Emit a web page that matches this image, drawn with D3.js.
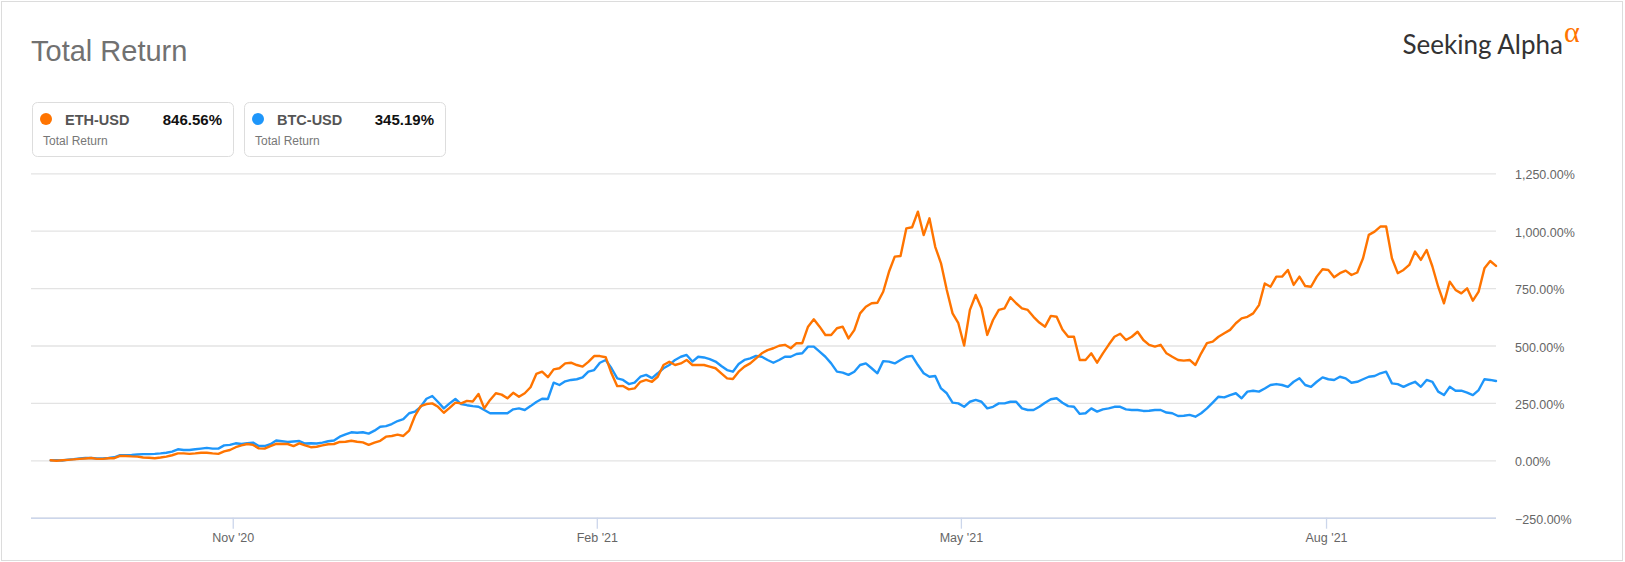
<!DOCTYPE html>
<html>
<head>
<meta charset="utf-8">
<script src="https://cdn.jsdelivr.net/npm/d3@7"></script>
<style>
  html, body { margin: 0; padding: 0; background: #fff; }
  svg { display: block; font-family: "Liberation Sans", Arial, sans-serif; }
</style>
</head>
<body>
<svg id="chart" width="1625" height="562"></svg>
<script>
// ---- data (daily trading-day total return, %) ----
const ethValues = [0,-2,0,2,4,6,8,10,6,6,9,9,19,19,17,16,12,11,9,12,16,22,30,30,28,30,33,33,30,28,39,45,57,65,71,67,52,51,62,72,71,71,62,74,65,57,59,65,70,71,80,81,85,81,78,67,77,85,103,106,112,106,129,193,236,245,248,233,207,228,251,248,259,256,289,226,263,292,286,270,294,277,292,318,376,386,362,396,401,422,425,415,408,429,454,454,449,379,323,324,309,313,342,350,342,364,415,429,415,422,437,415,415,415,408,401,379,357,354,386,408,422,444,466,480,488,499,503,488,510,510,582,614,582,546,546,575,582,531,567,640,669,684,686,734,821,887,890,1010,1015,1083,981,1054,930,858,742,640,597,500,655,720,662,546,611,655,662,710,684,662,655,625,600,582,629,625,570,538,538,437,437,466,425,466,503,538,551,524,538,560,524,503,495,503,466,451,437,434,437,415,466,510,517,538,553,568,597,618,625,640,676,770,756,800,800,829,764,800,759,756,800,832,829,797,815,826,807,818,880,982,996,1018,1018,880,815,829,851,909,873,916,844,756,684,778,742,727,749,695,735,836,868,846.56];
const btcValues = [0,0,-1,3,5,8,10,10,8,8,10,13,22,22,23,25,27,27,28,30,33,38,48,45,45,48,51,54,51,51,65,67,74,71,74,77,62,62,70,86,83,80,82,84,73,74,73,77,83,86,103,113,122,120,122,116,129,146,149,158,171,179,205,212,233,268,280,254,226,248,267,245,240,236,233,219,205,205,205,205,222,226,219,236,254,268,267,338,328,344,350,353,361,386,393,425,437,401,357,350,332,338,364,372,358,379,401,415,437,451,459,430,451,448,441,430,411,393,386,419,437,444,455,451,437,425,437,451,451,463,466,495,495,473,451,422,386,382,372,386,415,422,401,379,432,430,422,437,451,455,415,379,364,367,313,292,251,248,233,255,263,255,226,233,248,248,255,255,226,219,219,233,251,266,270,251,236,233,202,205,226,212,222,226,233,233,222,219,219,215,216,219,219,208,205,193,194,198,190,205,226,251,277,274,284,292,270,299,303,299,313,328,332,328,320,342,357,328,320,342,361,353,350,364,357,338,342,353,364,367,379,386,335,332,320,332,342,320,350,342,299,284,320,303,303,295,284,306,353,350,345.19];
const seriesNames = ["ETH-USD", "BTC-USD"];
const seriesTotals = ["846.56%", "345.19%"];
const seriesColors = ["#ff7400", "#1e96fa"];
const xTickLabels = ["Nov '20", "Feb '21", "May '21", "Aug '21"];
const xTickIndex = [31.49, 94.46, 157.44, 220.6];
const yTickValues = [-250, 0, 250, 500, 750, 1000, 1250];

// ---- layout ----
const svg = d3.select("#chart");
const plot = { left: 31, right: 1496, top: 173.3, bottom: 517.7 };
const dataLeft = 50.7;

svg.append("rect").attr("x", 1.5).attr("y", 1.5).attr("width", 1621).attr("height", 559)
  .attr("fill", "#fff").attr("stroke", "#dcdcdc");

const x = d3.scaleLinear().domain([0, ethValues.length - 1]).range([dataLeft, plot.right]);
const y = d3.scaleLinear().domain([-250, 1250]).range([plot.bottom, plot.top]);

// grid lines + y labels
const yAxis = d3.axisRight(y).tickValues(yTickValues)
  .tickSize(plot.right - plot.left)
  .tickFormat(d => d3.format(",.2f")(d) + "%");
const gy = svg.append("g").attr("transform", `translate(${plot.left},0)`).call(yAxis);
gy.select(".domain").remove();
gy.selectAll(".tick line").attr("stroke", "#e3e3e3").attr("stroke-width", 1.3);
gy.selectAll(".tick text").attr("x", plot.right - plot.left + 19).attr("dy", "0.45em")
  .attr("fill", "#666").style("font-size", "12.5px");

// x axis
const xAxis = d3.axisBottom(x).tickValues(xTickIndex)
  .tickFormat((d, i) => xTickLabels[i]).tickSize(11).tickSizeOuter(0);
const gx = svg.append("g").attr("transform", `translate(0,${plot.bottom})`).call(xAxis);
gx.select(".domain").attr("d", `M${plot.left},0.5H${plot.right}`).attr("stroke", "#ccd6eb").attr("stroke-width", 1.5);
gx.selectAll(".tick line").attr("stroke", "#ccd6eb").attr("stroke-width", 1.3);
gx.selectAll(".tick text").attr("y", 15).attr("dy", "0.71em").attr("fill", "#666").style("font-size", "12.5px");

// lines (BTC first, ETH on top)
const line = d3.line().x((d, i) => x(i)).y(d => y(d));
[[btcValues, 1], [ethValues, 0]].forEach(([vals, idx]) => {
  svg.append("path").datum(vals).attr("d", line)
    .attr("fill", "none").attr("stroke", seriesColors[idx]).attr("stroke-width", 2.4)
    .attr("stroke-linejoin", "round").attr("stroke-linecap", "round");
});

// title
svg.append("text").attr("x", 31).attr("y", 61).text("Total Return")
  .attr("fill", "#717171").style("font-size", "29px");

// logo
svg.append("text").attr("x", 1563).attr("y", 54).attr("text-anchor", "end")
  .style("font-family", "Lato, 'Open Sans', sans-serif").style("font-size", "26px").attr("fill", "#333")
  .text("Seeking Alpha");
svg.append("text").attr("x", 1564).attr("y", 42).text("α")
  .style("font-family", "'Liberation Serif', serif").style("font-size", "30px").attr("fill", "#ff7400");

// legend boxes
const boxX = [32, 244];
seriesNames.forEach((name, i) => {
  const g = svg.append("g").attr("transform", `translate(${boxX[i]},102)`);
  g.append("rect").attr("x", 0.5).attr("y", 0.5).attr("width", 201).attr("height", 54).attr("rx", 5)
    .attr("fill", "#fff").attr("stroke", "#dddddd");
  g.append("circle").attr("cx", 14).attr("cy", 17).attr("r", 6).attr("fill", seriesColors[i]);
  g.append("text").attr("x", 33).attr("y", 23).text(name)
    .attr("fill", "#555").style("font-size", "14.5px").style("font-weight", "bold");
  g.append("text").attr("x", 190).attr("y", 23).attr("text-anchor", "end").text(seriesTotals[i])
    .attr("fill", "#111").style("font-size", "15px").style("font-weight", "bold");
  g.append("text").attr("x", 11).attr("y", 43).text("Total Return")
    .attr("fill", "#777").style("font-size", "12px");
});
</script>
</body>
</html>
